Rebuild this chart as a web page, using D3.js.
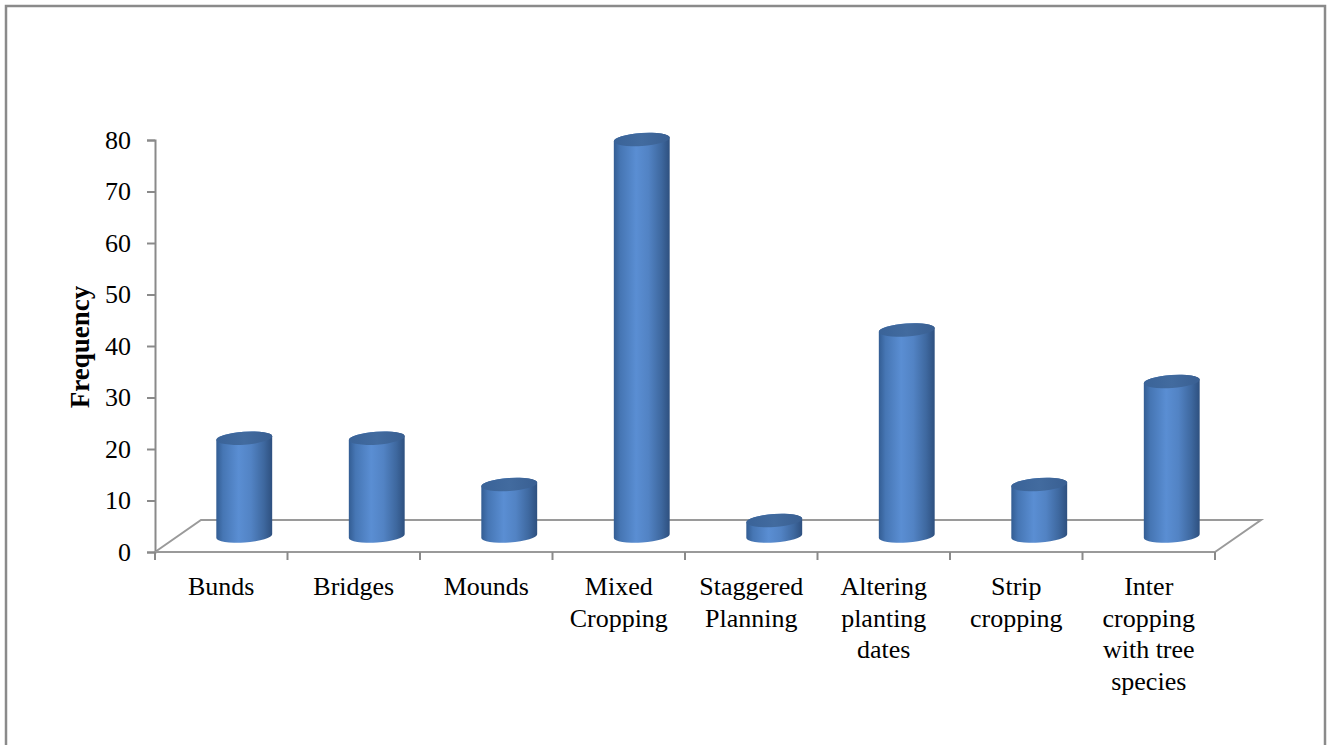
<!DOCTYPE html>
<html>
<head>
<meta charset="utf-8">
<script src="https://cdn.jsdelivr.net/npm/d3@7.9.0/dist/d3.min.js"></script>
<style>
  body { margin: 0; background: #fff; }
  svg { display: block; }
  text { font-family: "Liberation Serif", serif; fill: #000; }
</style>
</head>
<body>
<svg id="chart" width="1331" height="745"></svg>
<script>
// data
const categories = [
  ['Bunds'],
  ['Bridges'],
  ['Mounds'],
  ['Mixed', 'Cropping'],
  ['Staggered', 'Planning'],
  ['Altering', 'planting', 'dates'],
  ['Strip', 'cropping'],
  ['Inter', 'cropping', 'with tree', 'species']
];
const frequency = [19, 19, 10, 77, 3, 40, 10, 30];
const yTicks = [0, 10, 20, 30, 40, 50, 60, 70, 80];

const svg = d3.select('#chart');
const fontSize = '26px';

// frame
svg.append('rect')
  .attr('x', 6).attr('y', 6)
  .attr('width', 1319).attr('height', 760)
  .attr('fill', 'none')
  .attr('stroke', '#8a8a8a')
  .attr('stroke-width', 2.5);

const left = 155, right = 1215, base = 552;
const depthX = 46, depthY = -32; // floor depth offset

let x = d3.scaleBand()
  .domain(d3.range(categories.length))
  .range([left, right]);

let y = d3.scaleLinear().domain([0, 80]).range([base, 140]);

// gradients
const defs = svg.append('defs');
let body = defs.append('linearGradient').attr('id', 'body')
  .attr('x1', 0).attr('x2', 1).attr('y1', 0).attr('y2', 0);
[['0%', '#335d93'], ['12%', '#4676b4'], ['40%', '#5a8ed3'], ['62%', '#5283c4'], ['85%', '#3e689f'], ['100%', '#2e507f']]
  .forEach(s => body.append('stop').attr('offset', s[0]).attr('stop-color', s[1]));
let cap = defs.append('linearGradient').attr('id', 'cap')
  .attr('x1', 0).attr('x2', 1).attr('y1', 0).attr('y2', 0);
[['0%', '#3a6398'], ['50%', '#426b9f'], ['100%', '#395f92']]
  .forEach(s => cap.append('stop').attr('offset', s[0]).attr('stop-color', s[1]));

// floor
const floorColor = '#9a9a9a';
svg.append('path')
  .attr('d', `M${left},${base} L${left + depthX},${base + depthY} L${right + depthX},${base + depthY} L${right},${base}`)
  .attr('fill', 'none')
  .attr('stroke', floorColor)
  .attr('stroke-width', 2);

// y axis
let yAxis = d3.axisLeft(y).tickValues(yTicks).tickSize(8).tickPadding(16);
let ya = svg.append('g').attr('transform', `translate(${left},0)`).call(yAxis);
ya.select('.domain').attr('stroke', '#8a8a8a').attr('stroke-width', 2);
ya.selectAll('.tick line').attr('stroke', '#8a8a8a').attr('stroke-width', 2);
ya.selectAll('.tick text')
  .style('font-family', '"Liberation Serif", serif')
  .style('font-size', fontSize)
  .attr('fill', '#000');

// x axis: front edge and ticks
let xTicks = d3.range(categories.length + 1).map(i => left + i * x.bandwidth());
svg.append('line')
  .attr('x1', left).attr('x2', right)
  .attr('y1', base).attr('y2', base)
  .attr('stroke', floorColor).attr('stroke-width', 2);
svg.selectAll('.xtick').data(xTicks).join('line')
  .attr('x1', d => d).attr('x2', d => d)
  .attr('y1', base).attr('y2', base + 8)
  .attr('stroke', '#8a8a8a').attr('stroke-width', 2);

// category labels
svg.selectAll('.cat').data(categories).join('text')
  .attr('text-anchor', 'middle')
  .style('font-size', fontSize)
  .each(function (lines, i) {
    d3.select(this).selectAll('tspan').data(lines).join('tspan')
      .attr('x', x(i) + x.bandwidth() / 2)
      .attr('y', (d, j) => 595 + j * 31.5)
      .text(d => d);
  });

// y title
svg.append('text')
  .attr('transform', 'translate(89,347) rotate(-90)')
  .attr('text-anchor', 'middle')
  .style('font-size', '27px')
  .style('font-weight', 'bold')
  .text('Frequency');

// cylinders, sitting at mid depth of the floor
const rx = 28, ry = 6.5, tilt = -4;
const t = tilt * Math.PI / 180;
const ex = rx * Math.cos(t), ey = rx * Math.sin(t);
const mid = depthY / 2;

frequency.forEach((v, i) => {
  const cx = x(i) + x.bandwidth() / 2 + depthX / 2;
  const yb = y(0) + mid;
  const yt = y(v) + mid;
  const g = svg.append('g');
  g.append('path')
    .attr('d', `M${cx - ex},${yt - ey} L${cx - ex},${yb - ey} ` +
      `A${rx},${ry} ${tilt} 0 0 ${cx + ex},${yb + ey} ` +
      `L${cx + ex},${yt + ey} A${rx},${ry} ${tilt} 0 0 ${cx - ex},${yt - ey} Z`)
    .attr('fill', 'url(#body)');
  g.append('ellipse')
    .attr('cx', cx).attr('cy', yt)
    .attr('rx', rx).attr('ry', ry)
    .attr('transform', `rotate(${tilt},${cx},${yt})`)
    .attr('fill', 'url(#cap)');
});
</script>
</body>
</html>
